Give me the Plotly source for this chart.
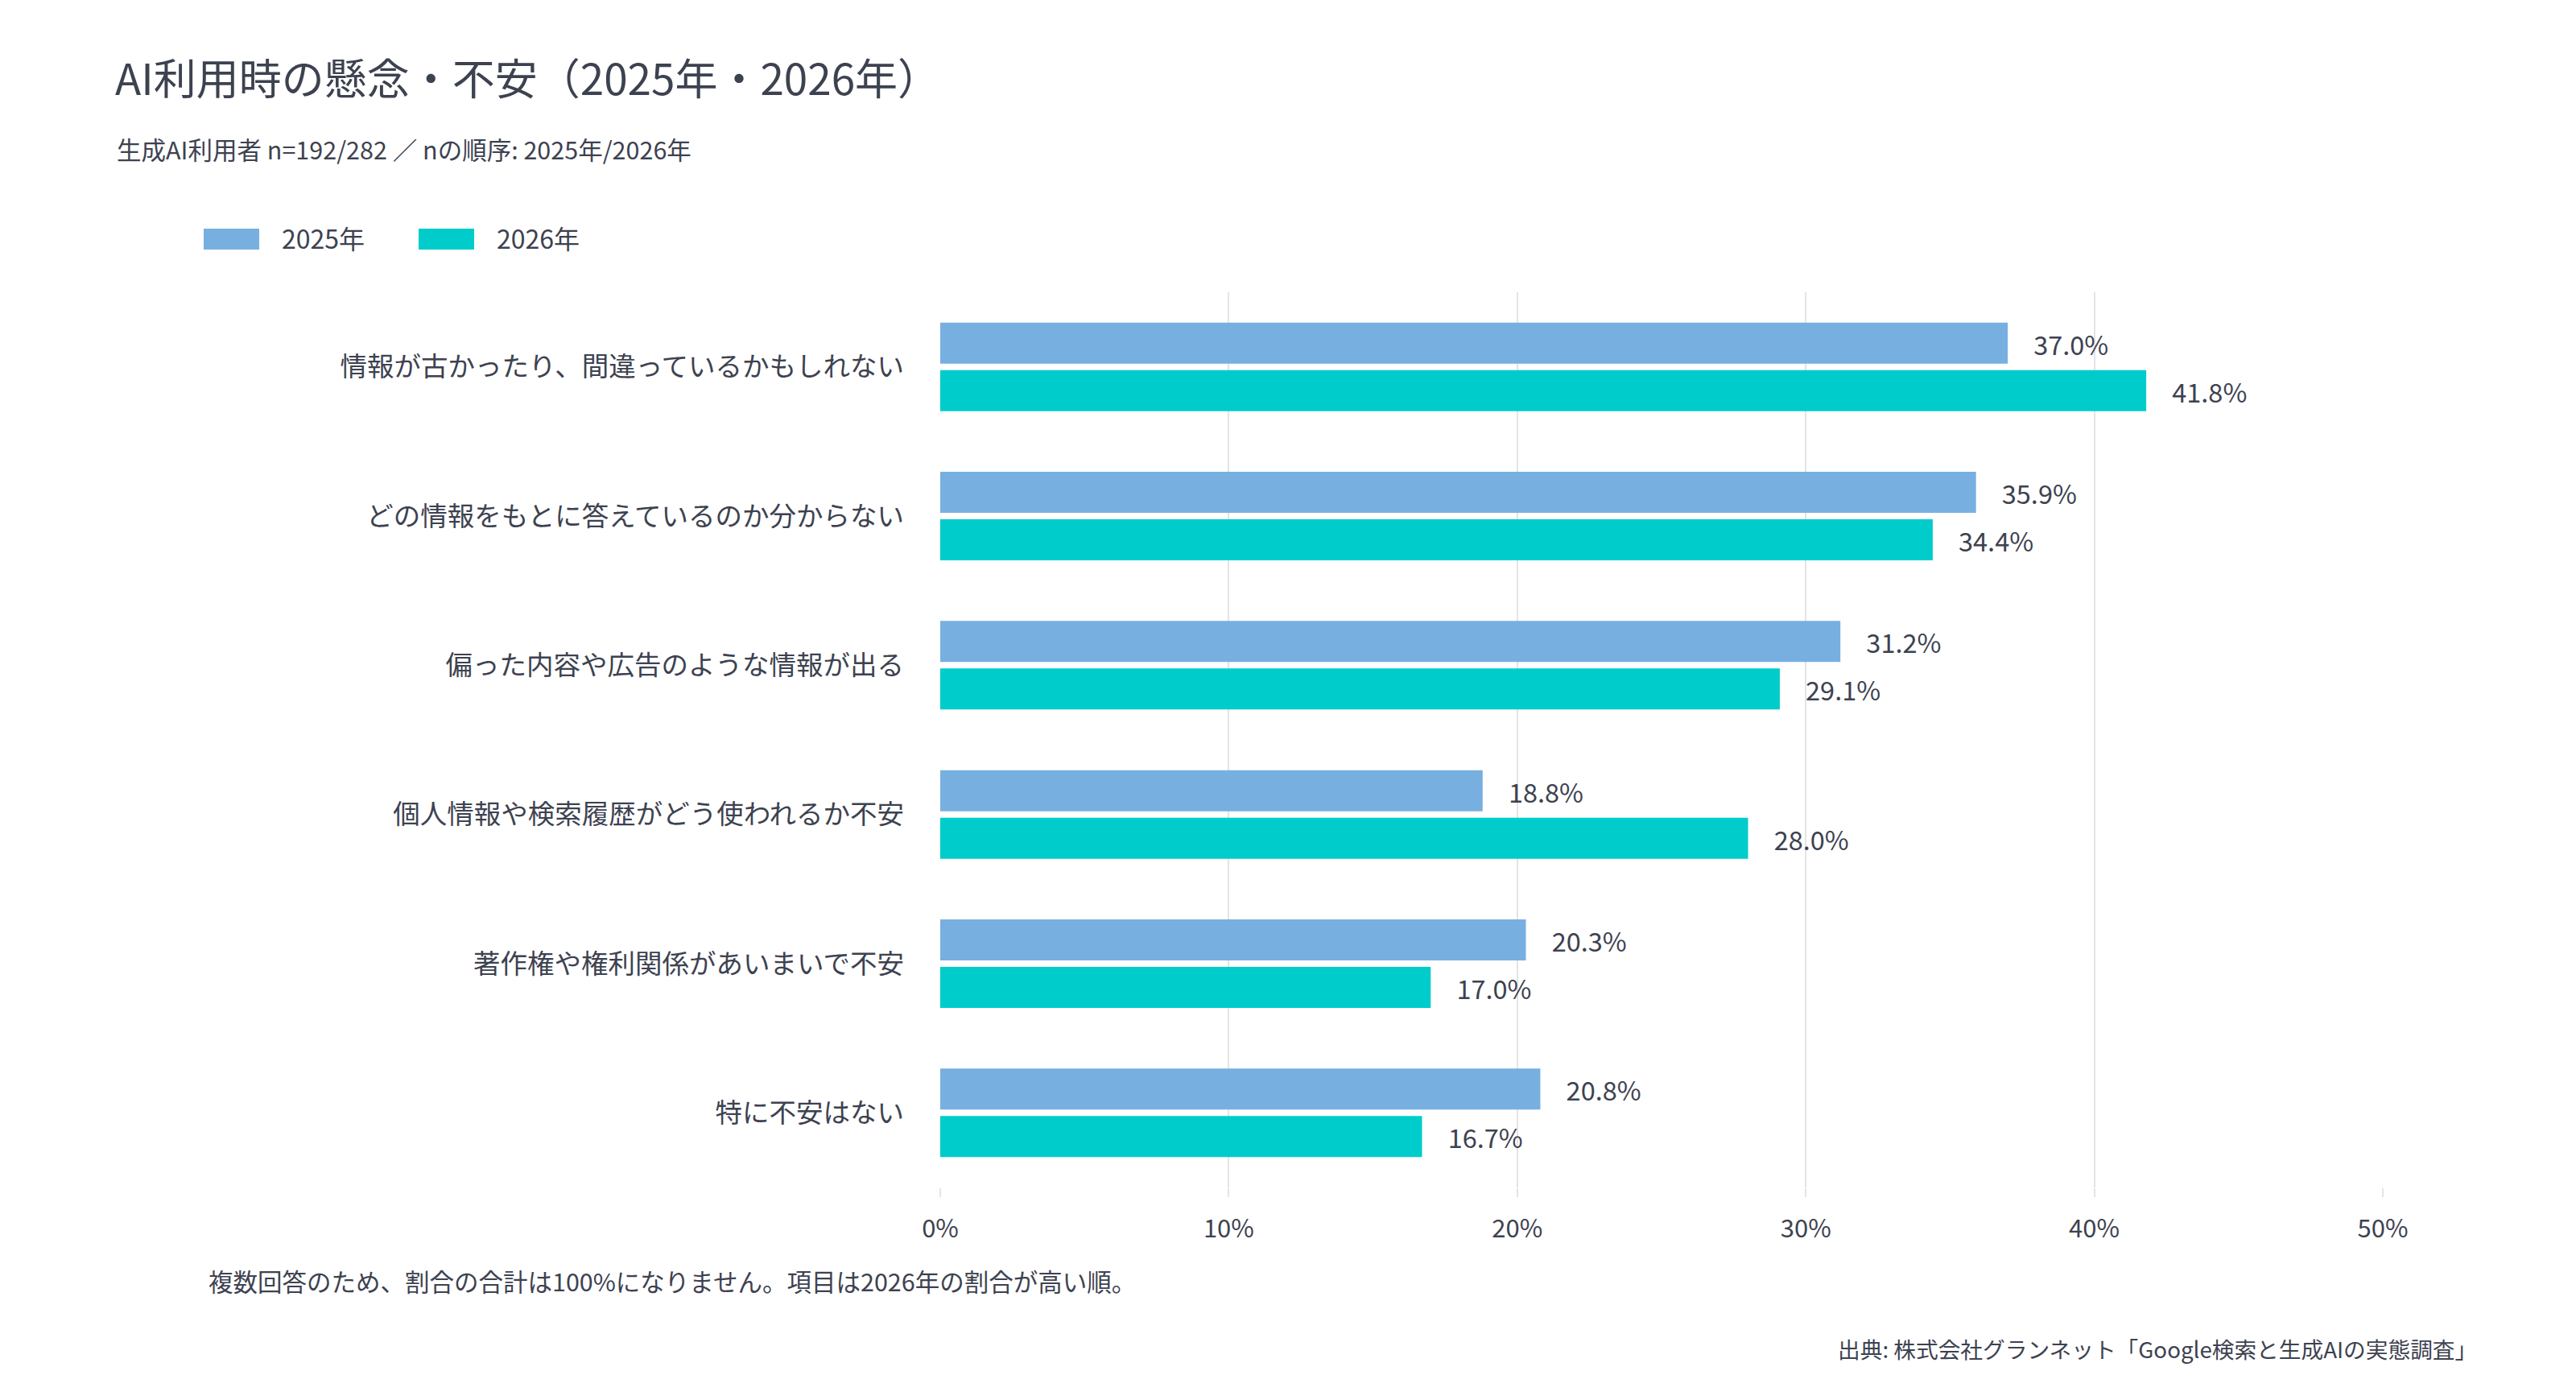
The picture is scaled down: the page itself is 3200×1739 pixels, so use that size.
import plotly.graph_objects as go

# data
categories = [
    "情報が古かったり、間違っているかもしれない",
    "どの情報をもとに答えているのか分からない",
    "偏った内容や広告のような情報が出る",
    "個人情報や検索履歴がどう使われるか不安",
    "著作権や権利関係があいまいで不安",
    "特に不安はない",
]
series_names = ["2025年", "2026年"]
values_2025 = [37.0, 35.9, 31.2, 18.8, 20.3, 20.8]
values_2026 = [41.8, 34.4, 29.1, 28.0, 17.0, 16.7]
x_ticks = [0, 10, 20, 30, 40, 50]
x_tick_labels = ["0%", "10%", "20%", "30%", "40%", "50%"]

colors = ["#77B0E0", "#00CCCC"]
text_color = "#3D4250"
grid_color = "#E4E4E4"
font_family = "Noto Sans CJK JP"

# page body has an 8px margin, so the figure is a bit smaller and everything
# is placed 8px up/left of where it sits in the screenshot
OFF = 8
W, H = 3200 - 2 * OFF, 1739 - 2 * OFF
L, T = 1168 - OFF, 363 - OFF
R = W - (2960 - OFF)
B = H - (1475 - OFF)
plot_w = W - L - R
plot_h = H - T - B


def px_x(px):
    # screenshot pixel -> paper x
    return (px - OFF - L) / plot_w


def px_y(py):
    # screenshot pixel (from top) -> paper y
    return 1 - (py - OFF - T) / plot_h


fig = go.Figure()
for name, vals, col in zip(series_names, [values_2025, values_2026], colors):
    fig.add_trace(go.Bar(
        y=categories, x=vals, name=name, orientation="h",
        marker=dict(color=col, line=dict(width=0)),
        texttemplate="\u00a0\u00a0\u00a0\u00a0%{x:.1f}%",
        textposition="outside", constraintext="none", cliponaxis=False,
        outsidetextfont=dict(family=font_family, size=32.5, color=text_color),
        showlegend=False,
    ))

fig.update_layout(
    width=W, height=H,
    margin=dict(l=L, r=R, t=T, b=B),
    paper_bgcolor="white", plot_bgcolor="white",
    font=dict(family=font_family, color=text_color),
    barmode="group", bargap=0.363, bargroupgap=0.136,
    title=dict(
        text="AI利用時の懸念・不安（2025年・2026年）",
        font=dict(size=53, color=text_color),
        xref="container", yref="container",
        x=(143 - OFF) / W, xanchor="left", y=1 - (99 - OFF) / H, yanchor="middle",
    ),
)

fig.update_xaxes(
    range=[0, 50], tickvals=x_ticks, ticktext=x_tick_labels,
    showgrid=True, gridcolor=grid_color, gridwidth=2, zeroline=False,
    ticks="outside", ticklen=11, tickwidth=2, tickcolor=grid_color,
    tickfont=dict(size=31, color=text_color), ticklabelstandoff=13,
    showline=False,
)
fig.update_yaxes(
    categoryorder="array", categoryarray=categories, autorange="reversed",
    showgrid=False, zeroline=False, showline=False, ticks="",
    tickfont=dict(size=33.5, color=text_color), ticklabelstandoff=44,
)

# subtitle, notes
fig.add_annotation(
    text="生成AI利用者 n=192/282 ／ nの順序: 2025年/2026年",
    xref="paper", yref="paper", x=px_x(143), y=px_y(185),
    xanchor="left", yanchor="middle", showarrow=False,
    font=dict(size=30.5, color=text_color),
)
fig.add_annotation(
    text="複数回答のため、割合の合計は100%になりません。項目は2026年の割合が高い順。",
    xref="paper", yref="paper", x=px_x(257), y=px_y(1591),
    xanchor="left", yanchor="middle", showarrow=False,
    font=dict(size=30.5, color=text_color),
)
fig.add_annotation(
    text="出典: 株式会社グランネット「Google検索と生成AIの実態調査」",
    xref="paper", yref="paper", x=px_x(3079), y=px_y(1675),
    xanchor="right", yanchor="middle", showarrow=False,
    font=dict(size=27.7, color=text_color),
)

# legend drawn by hand (wide swatches)
legend_x = [253, 520]
for name, col, lx in zip(series_names, colors, legend_x):
    fig.add_shape(
        type="rect", xref="paper", yref="paper",
        x0=px_x(lx), x1=px_x(lx + 69), y0=px_y(310), y1=px_y(284),
        fillcolor=col, line=dict(width=0),
    )
    fig.add_annotation(
        text=name, xref="paper", yref="paper",
        x=px_x(lx + 95), y=px_y(295), xanchor="left", yanchor="middle",
        showarrow=False, font=dict(size=32, color=text_color),
    )

fig.write_html("out.html")
